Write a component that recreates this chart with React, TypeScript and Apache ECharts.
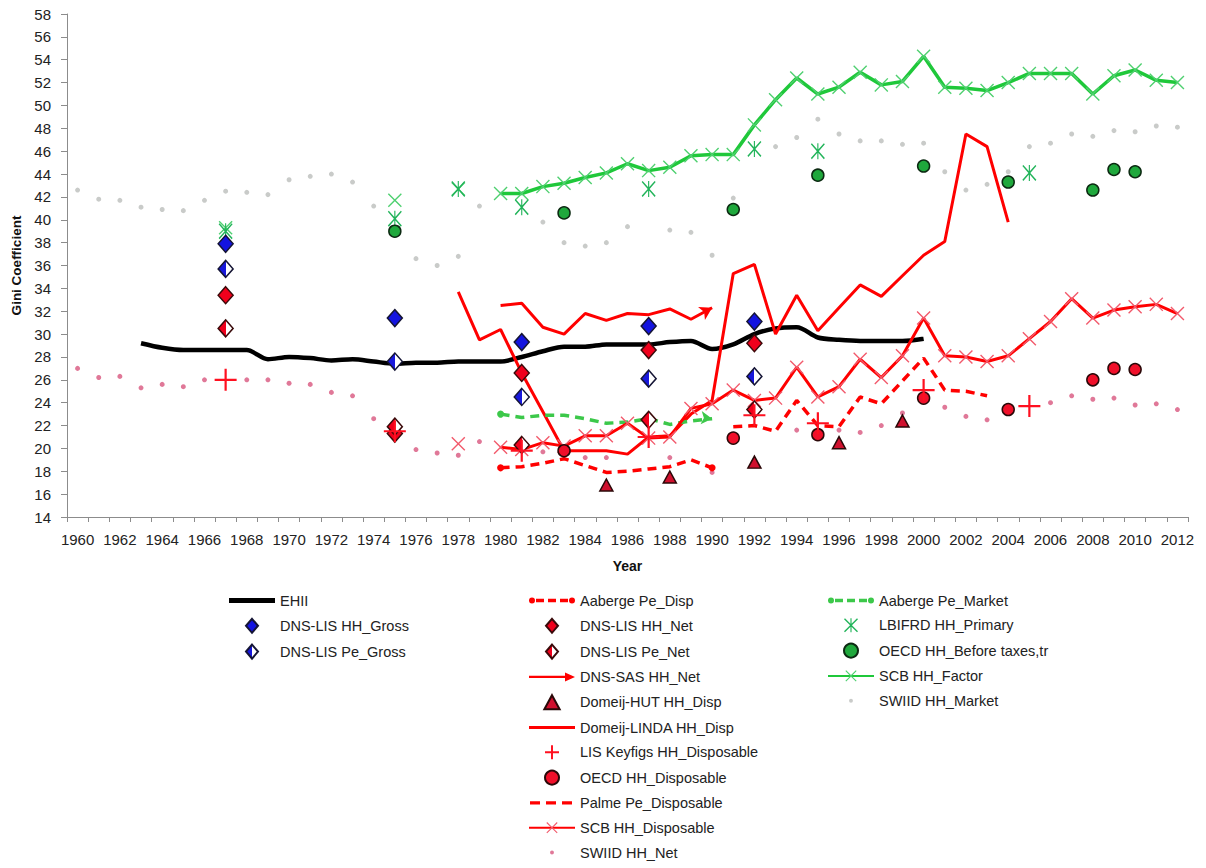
import React, { useEffect, useRef } from "react";
import * as echarts from "echarts";

const YEARS = [
  "1960","1961","1962","1963","1964","1965","1966","1967","1968","1969",
  "1970","1971","1972","1973","1974","1975","1976","1977","1978","1979",
  "1980","1981","1982","1983","1984","1985","1986","1987","1988","1989",
  "1990","1991","1992","1993","1994","1995","1996","1997","1998","1999",
  "2000","2001","2002","2003","2004","2005","2006","2007","2008","2009",
  "2010","2011","2012",
];

// contiguous series: start year + values
const EHII_START = 1963;
const EHII = [29.2, 28.8, 28.6, 28.6, 28.6, 28.6, 27.8, 28.0, 27.9, 27.7, 27.8, 27.6, 27.4, 27.5, 27.5, 27.6, 27.6, 27.6, 28.0, 28.5, 28.9, 28.9, 29.1, 29.1, 29.1, 29.3, 29.4, 28.7, 29.1, 30.0, 30.5, 30.6, 29.7, 29.5, 29.4, 29.4, 29.4, 29.6];

const AABERGE_DISP_START = 1980;
const AABERGE_DISP = [18.3, 18.4, 18.7, 19.1, 18.5, 17.9, 18.0, 18.2, 18.4, 19.0, 18.3];

const AABERGE_MARKET_START = 1980;
const AABERGE_MARKET = [23.0, 22.7, 22.9, 22.9, 22.6, 22.2, 22.3, 22.6, 22.1, 22.4, 22.6];

const DNS_SAS_START = 1980;
const DNS_SAS = [32.5, 32.7, 30.6, 30.0, 31.8, 31.2, 31.8, 31.7, 32.2, 31.3, 32.3];

const LINDA_START = 1978;
const LINDA = [33.7, 29.5, 30.4, 26.6, 23.2, 19.8, 19.8, 19.8, 19.5, 21.0, 21.1, 23.0, 24.2, 35.3, 36.1, 30.0, 33.4, 30.3, 32.3, 34.3, 33.3, 35.1, 36.9, 38.1, 47.5, 46.4, 39.8];

const PALME_START = 1991;
const PALME = [21.9, 22.0, 21.5, 24.2, 22.0, 21.9, 24.5, 23.9, 25.9, 27.9, 25.1, 25.0, 24.6];

const SCB_DISP_START = 1978;
const SCB_DISP = [20.4, null, 20.1, 19.9, 20.5, 20.2, 21.1, 21.1, 22.2, 20.9, 21.0, 23.5, 23.9, 25.1, 24.2, 24.4, 27.1, 24.5, 25.4, 27.8, 26.2, 28.1, 31.4, 28.1, 28.0, 27.6, 28.1, 29.6, 31.1, 33.1, 31.4, 32.1, 32.4, 32.6, 31.8];

const SCB_FACTOR_START = 1967;
const SCB_FACTOR = [39.3, null, null, null, null, null, null, null, 41.7, null, null, 42.7, null,
  42.3, 42.3, 42.9, 43.2, 43.7, 44.1, 44.9, 44.3, 44.6, 45.6, 45.7, 45.7, 48.3, 50.5, 52.4, 51.0, 51.6, 52.9, 51.8, 52.1, 54.3, 51.6, 51.5, 51.3, 52.0, 52.8, 52.8, 52.8, 51.0, 52.6, 53.1, 52.2, 52.0];

const SWIID_NET_START = 1960;
const SWIID_NET = [27.0, 26.2, 26.3, 25.3, 25.6, 25.4, 26.0, null, 26.0, 26.0, 25.7, 25.6, 24.9, 24.6, 22.6, null, 19.9, 19.6, 19.4, 20.6, null, null, 19.7, null, 19.2, 19.2, null, null, 19.2, null, 17.9, null, null, null, 21.6, null, 21.6, 21.4, 22.0, 23.1, null, 23.6, 22.8, 22.5, null, null, 24.0, 24.6, 24.3, 24.4, 23.8, 23.9, 23.4];

const SWIID_MARKET_START = 1960;
const SWIID_MARKET = [42.6, 41.8, 41.7, 41.1, 40.9, 40.8, 41.7, 42.5, 42.4, 42.2, 43.5, 43.8, 44.0, 43.3, 41.2, null, 36.6, 36.0, 36.8, 41.2, null, null, 39.8, 38.0, 37.7, 38.0, 39.4, null, 39.1, 38.9, 36.9, 41.9, null, 46.4, 47.2, 48.8, 47.5, 46.9, 46.9, 46.6, 46.7, 44.2, 42.6, 43.1, 44.2, 46.4, 46.7, 47.5, 47.3, 47.8, 47.7, 48.2, 48.1];

// sparse marker series: years + values
const DNS_YEARS = [1967, 1975, 1981, 1987, 1992];
const DNS_HH_GROSS = [37.9, 31.4, 29.3, 30.7, 31.1];
const DNS_HH_NET = [33.4, 21.3, 26.6, 28.6, 29.2];
const DNS_PE_GROSS = [35.7, 27.6, 24.5, 26.1, 26.3];
const DNS_PE_NET = [30.5, 21.9, 20.3, 22.5, 23.4];

const HUT_YEARS = [1985, 1988, 1992, 1996, 1999];
const HUT = [16.8, 17.5, 18.8, 20.5, 22.4];

const LIS_YEARS = [1967, 1975, 1981, 1987, 1992, 1995, 2000, 2005];
const LIS = [26.0, 21.5, 19.8, 21.0, 22.9, 22.2, 25.1, 23.7];

const OECD_DISP_YEARS = [1983, 1991, 1995, 2000, 2004, 2008, 2009, 2010];
const OECD_DISP = [19.8, 20.9, 21.2, 24.4, 23.4, 26.0, 27.0, 26.9];

const OECD_BEFORE_YEARS = [1975, 1983, 1991, 1995, 2000, 2004, 2008, 2009, 2010];
const OECD_BEFORE = [39.0, 40.6, 40.9, 43.9, 44.7, 43.3, 42.6, 44.4, 44.2];

const LBIFRD_YEARS = [1967, 1975, 1978, 1981, 1987, 1992, 1995, 2005];
const LBIFRD = [39.0, 40.1, 42.7, 41.1, 42.7, 46.2, 46.0, 44.1];

const LEGEND_COL1 = ["EHII", "DNS-LIS HH_Gross", "DNS-LIS Pe_Gross"];
const LEGEND_COL2 = [
  "Aaberge Pe_Disp", "DNS-LIS HH_Net", "DNS-LIS Pe_Net", "DNS-SAS HH_Net", "Domeij-HUT HH_Disp",
  "Domeij-LINDA HH_Disp", "LIS Keyfigs HH_Disposable", "OECD HH_Disposable", "Palme Pe_Disposable",
  "SCB HH_Disposable", "SWIID HH_Net",
];
const LEGEND_COL3 = ["Aaberge Pe_Market", "LBIFRD HH_Primary", "OECD HH_Before taxes,tr", "SCB HH_Factor", "SWIID HH_Market"];

const FONT = "'Liberation Sans', Arial, sans-serif";
const RED = "#ff0000";
const GREEN = "#1fc83a";

const X_PATH = "path://M0,1.4L1.4,0L10,8.6L18.6,0L20,1.4L11.4,10L20,18.6L18.6,20L10,11.4L1.4,20L0,18.6L8.6,10Z";
const ASTER_PATH = "path://M0,1.4L1.4,0L10,8.6L18.6,0L20,1.4L11.4,10L20,18.6L18.6,20L10,11.4L1.4,20L0,18.6L8.6,10Z M9.2,0H10.8V20H9.2Z";
const PLUS_PATH = "path://M9,0H11V9H20V11H11V20H9V11H0V9H9Z";

// legend icons (46 x 14 boxes, tiny corner points fix the box)
const CORNERS = "M0,0L0.01,0L0,0.01Z M46,14L45.99,14L46,13.99Z";
const DOT_ICON = "path://M0,0L0.01,0L0,0.01Z M20,20L19.99,20L20,19.99Z M7.2,10A2.8,2.8 0 1 1 12.8,10A2.8,2.8 0 1 1 7.2,10Z";
const DIAMOND_ICON = "path://M6,0L12,7L6,14L0,7Z";
const TRIANGLE_ICON = "path://M6,0L12,11L0,11Z";
const PLUS_ICON = "path://M4.3,0H5.7V4.3H10V5.7H5.7V10H4.3V5.7H0V4.3H4.3Z";
const LINE_ICON = (w: number) => `path://${CORNERS} M0,${7 - w / 2}H46V${7 + w / 2}H0Z`;
const DASH_ICON = (w: number) =>
  `path://${CORNERS} M1,${7 - w / 2}H11V${7 + w / 2}H1Z M17,${7 - w / 2}H27V${7 + w / 2}H17Z M33,${7 - w / 2}H43V${7 + w / 2}H33Z`;
const DASH_DOT_ICON = (w: number) =>
  `path://${CORNERS} M0,7A3,3 0 1 1 6,7A3,3 0 1 1 0,7Z M7,${7 - w / 2}H15V${7 + w / 2}H7Z M19,${7 - w / 2}H27V${7 + w / 2}H19Z M31,${7 - w / 2}H39V${7 + w / 2}H31Z M40,7A3,3 0 1 1 46,7A3,3 0 1 1 40,7Z`;
const ARROW_ICON = `path://${CORNERS} M0,5.8H38V8.2H0Z M36,2.5L46,7L36,11.5Z`;

function contiguous(start: number, values: (number | null)[]) {
  const out: (number | null)[] = YEARS.map(() => null);
  values.forEach((v, i) => {
    out[start - 1960 + i] = v;
  });
  return out;
}

function sparse(years: number[], values: number[]) {
  const out: (number | null)[] = YEARS.map(() => null);
  years.forEach((y, i) => {
    out[y - 1960] = values[i];
  });
  return out;
}

function withEnds(data: (number | null)[], startSym: any, endSym: any) {
  const idx = data.map((v, i) => (v == null ? -1 : i)).filter((i) => i >= 0);
  const first = idx[0];
  const last = idx[idx.length - 1];
  return data.map((v, i) => {
    if (v == null) return null;
    if (i === first && startSym) return { value: v, ...startSym };
    if (i === last && endSym) return { value: v, ...endSym };
    return v;
  });
}

const half = (c: string) =>
  new echarts.graphic.LinearGradient(0, 0, 1, 0, [
    { offset: 0, color: c },
    { offset: 0.5, color: c },
    { offset: 0.5, color: "#ffffff" },
    { offset: 1, color: "#ffffff" },
  ]);

const LEGEND_ICONS: Record<string, string> = {
  "EHII": LINE_ICON(5),
  "DNS-LIS HH_Gross": DIAMOND_ICON,
  "DNS-LIS Pe_Gross": DIAMOND_ICON,
  "DNS-LIS HH_Net": DIAMOND_ICON,
  "DNS-LIS Pe_Net": DIAMOND_ICON,
  "Domeij-HUT HH_Disp": TRIANGLE_ICON,
  "Domeij-LINDA HH_Disp": LINE_ICON(3.2),
  "Palme Pe_Disposable": DASH_ICON(3.2),
  "Aaberge Pe_Disp": DASH_DOT_ICON(3.5),
  "Aaberge Pe_Market": DASH_DOT_ICON(3.5),
  "DNS-SAS HH_Net": ARROW_ICON,
  "LIS Keyfigs HH_Disposable": PLUS_ICON,
  "SWIID HH_Net": DOT_ICON,
  "SWIID HH_Market": DOT_ICON,
};

function buildOption(): any {
  const dotSeries = (name: string, data: any[], color: string) => ({
    name, type: "scatter", data, symbol: "circle", symbolSize: 5,
    itemStyle: { color, opacity: 1 }, z: 2, silent: true,
  });
  const markerSeries = (name: string, data: any[], symbol: string, size: any, itemStyle: any) => ({
    name, type: "scatter", data, symbol, symbolSize: size, itemStyle: { opacity: 1, ...itemStyle }, z: 5, silent: true,
  });

  const series: any[] = [
    dotSeries("SWIID HH_Market", contiguous(SWIID_MARKET_START, SWIID_MARKET), "#c9cbc9"),
    dotSeries("SWIID HH_Net", contiguous(SWIID_NET_START, SWIID_NET), "#e07898"),
    {
      name: "EHII", type: "line", data: contiguous(EHII_START, EHII), symbol: "none", smooth: 0.3,
      lineStyle: { color: "#000", width: 4.5 }, itemStyle: { color: "#000" }, z: 3, silent: true,
    },
    {
      name: "Domeij-LINDA HH_Disp", type: "line", data: contiguous(LINDA_START, LINDA), symbol: "none",
      lineStyle: { color: RED, width: 3 }, itemStyle: { color: RED }, z: 3, silent: true,
    },
    {
      name: "DNS-SAS HH_Net", type: "line", symbol: "none", showSymbol: true,
      data: withEnds(contiguous(DNS_SAS_START, DNS_SAS), null, { symbol: "arrow", symbolSize: [11, 12], symbolRotate: -62 }),
      lineStyle: { color: RED, width: 3 }, itemStyle: { color: RED }, z: 3, silent: true,
    },
    {
      name: "Aaberge Pe_Disp", type: "line", symbol: "none", showSymbol: true,
      data: withEnds(contiguous(AABERGE_DISP_START, AABERGE_DISP), { symbol: "circle", symbolSize: 7 }, { symbol: "circle", symbolSize: 7 }),
      lineStyle: { color: RED, width: 3.5, type: [9, 6] }, itemStyle: { color: RED }, z: 3, silent: true,
    },
    {
      name: "Aaberge Pe_Market", type: "line", symbol: "none", showSymbol: true,
      data: withEnds(contiguous(AABERGE_MARKET_START, AABERGE_MARKET), { symbol: "circle", symbolSize: 7 }, { symbol: "arrow", symbolSize: [10, 11], symbolRotate: -95 }),
      lineStyle: { color: "#3cc84a", width: 3.5, type: [9, 6] }, itemStyle: { color: "#3cc84a" }, z: 3, silent: true,
    },
    {
      name: "Palme Pe_Disposable", type: "line", data: contiguous(PALME_START, PALME), symbol: "none",
      lineStyle: { color: RED, width: 3.5, type: [9, 6] }, itemStyle: { color: RED }, z: 3, silent: true,
    },
    {
      name: "SCB HH_Disposable", type: "line", data: contiguous(SCB_DISP_START, SCB_DISP), symbol: X_PATH,
      symbolSize: 14, showSymbol: true, connectNulls: false,
      lineStyle: { color: RED, width: 3 }, itemStyle: { color: "#f25a6c" }, z: 3, silent: true,
    },
    {
      name: "SCB HH_Factor", type: "line", data: contiguous(SCB_FACTOR_START, SCB_FACTOR), symbol: X_PATH,
      symbolSize: 14, showSymbol: true, connectNulls: false,
      lineStyle: { color: GREEN, width: 3.5 }, itemStyle: { color: "#4fd070" }, z: 3, silent: true,
    },
    markerSeries("LBIFRD HH_Primary", sparse(LBIFRD_YEARS, LBIFRD), ASTER_PATH, [14, 16], { color: "#22b45a" }),
    markerSeries("OECD HH_Before taxes,tr", sparse(OECD_BEFORE_YEARS, OECD_BEFORE), "circle", 12, { color: "#1fa83c", borderColor: "#0c2a12", borderWidth: 1.5 }),
    markerSeries("DNS-LIS HH_Gross", sparse(DNS_YEARS, DNS_HH_GROSS), "diamond", [15, 17], { color: "#1414e0", borderColor: "#151535", borderWidth: 1.5 }),
    markerSeries("DNS-LIS Pe_Gross", sparse(DNS_YEARS, DNS_PE_GROSS), "diamond", [15, 17], { color: half("#1818dc"), borderColor: "#151535", borderWidth: 1.5 }),
    markerSeries("DNS-LIS HH_Net", sparse(DNS_YEARS, DNS_HH_NET), "diamond", [15, 17], { color: "#f0001c", borderColor: "#3a0a0a", borderWidth: 1.5 }),
    markerSeries("DNS-LIS Pe_Net", sparse(DNS_YEARS, DNS_PE_NET), "diamond", [15, 17], { color: half("#f0001c"), borderColor: "#3a0a0a", borderWidth: 1.5 }),
    markerSeries("Domeij-HUT HH_Disp", sparse(HUT_YEARS, HUT), "triangle", [13, 12], { color: "#d0102e", borderColor: "#2a0808", borderWidth: 1.5 }),
    markerSeries("OECD HH_Disposable", sparse(OECD_DISP_YEARS, OECD_DISP), "circle", 12, { color: "#f0102a", borderColor: "#2a0808", borderWidth: 1.5 }),
    markerSeries("LIS Keyfigs HH_Disposable", sparse(LIS_YEARS, LIS), PLUS_PATH, 22, { color: "#ff1020" }),
  ];

  const legendBase = {
    orient: "vertical", top: 593, itemWidth: 46, itemHeight: 14, itemGap: 9.8, padding: 0, height: 275,
    symbolKeepAspect: true,
    selectedMode: false, textStyle: { fontFamily: FONT, fontSize: 14.5, color: "#222", lineHeight: 14 },
  };
  const iconFor = (name: string) => (LEGEND_ICONS[name] ? { name, icon: LEGEND_ICONS[name] } : { name });

  return {
    animation: false,
    backgroundColor: "#ffffff",
    grid: { left: 67, top: 14, width: 1121, height: 503, containLabel: false },
    xAxis: {
      type: "category", data: YEARS, boundaryGap: true,
      name: "Year", nameLocation: "middle", nameGap: 42,
      nameTextStyle: { fontFamily: FONT, fontSize: 14, fontWeight: "bold", color: "#111" },
      axisLine: { show: true, lineStyle: { color: "#8c8c8c", width: 1 } },
      axisTick: { show: true, interval: 0, length: 5, alignWithLabel: false, lineStyle: { color: "#8c8c8c" } },
      axisLabel: { interval: 1, fontFamily: FONT, fontSize: 15, color: "#222", margin: 15 },
      splitLine: { show: false },
    },
    yAxis: {
      type: "value", min: 14, max: 58, interval: 2,
      name: "Gini Coefficient", nameLocation: "middle", nameGap: 44, nameRotate: 90,
      nameTextStyle: { fontFamily: FONT, fontSize: 13.5, fontWeight: "bold", color: "#111" },
      axisLine: { show: true, lineStyle: { color: "#8c8c8c", width: 1 } },
      axisTick: { show: true, length: 6, lineStyle: { color: "#8c8c8c" } },
      axisLabel: { fontFamily: FONT, fontSize: 15, color: "#222", margin: 16 },
      splitLine: { show: false },
    },
    legend: [
      { ...legendBase, left: 229, data: LEGEND_COL1.map(iconFor) },
      { ...legendBase, left: 528, data: LEGEND_COL2.map(iconFor) },
      { ...legendBase, left: 827, data: LEGEND_COL3.map(iconFor) },
    ],
    series,
  };
}

export default function App() {
  const ref = useRef<HTMLDivElement>(null);
  useEffect(() => {
    const chart = echarts.init(ref.current!, undefined, { renderer: "svg" });
    chart.setOption(buildOption());
    return () => chart.dispose();
  }, []);
  return (
    <div
      ref={ref}
      style={{ position: "fixed", left: 0, top: 0, width: 1206, height: 868, background: "#fff" }}
    />
  );
}
